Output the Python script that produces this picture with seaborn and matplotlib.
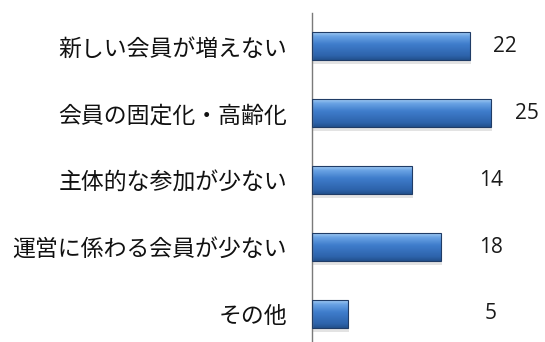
import numpy as np
import pandas as pd
import matplotlib
matplotlib.use("Agg")
import matplotlib.pyplot as plt
import seaborn as sns
from matplotlib.colors import LinearSegmentedColormap

categories = ["新しい会員が増えない", "会員の固定化・高齢化", "主体的な参加が少ない",
              "運営に係わる会員が少ない", "その他"]
values = [22, 25, 14, 18, 5]

sns.set_theme(style="white")
plt.rcParams['font.family'] = ['Noto Sans CJK JP', 'DejaVu Sans']

df = pd.DataFrame({"category": categories, "value": values})

fig = plt.figure(figsize=(5.45, 3.42), dpi=100)
ax = fig.add_axes([312 / 545, 0.0, 233 / 545, 1 - 13 / 342])

sns.barplot(data=df, x="value", y="category", orient="h", width=0.42,
            color="#3a76c6", ax=ax, edgecolor="#203c66", linewidth=0.8)

ax.set_xlim(0, 233 / 7.16)
ax.set_ylim(4.42, -0.5)

# gradient fill clipped to each bar
cmap = LinearSegmentedColormap.from_list(
    "barg", [(0.0, "#b3d6f8"), (0.18, "#6aa3e4"), (0.45, "#3f7dcc"),
             (0.85, "#2d63ab"), (1.0, "#22508c")])
grad = np.linspace(0, 1, 256).reshape(-1, 1)
for p in ax.patches:
    x0, y0 = p.get_x(), p.get_y()
    w, h = p.get_width(), p.get_height()
    sh = plt.Rectangle((x0 + 0.15, y0 + 0.06), w, h, facecolor="#c8c8c8",
                       edgecolor="none", alpha=0.5, zorder=1)
    ax.add_patch(sh)
    im = ax.imshow(grad, extent=(x0, x0 + w, y0 + h, y0), aspect="auto",
                   cmap=cmap, zorder=2, origin="upper")
    im.set_clip_path(p)
    p.set_zorder(3)
    p.set_facecolor("none")
ax.set_xlim(0, 233 / 7.16)
ax.set_ylim(4.42, -0.5)

for i, v in enumerate(values):
    ax.text(max(25, v + 5), i, str(v), ha="center", va="center",
            fontsize=15, color="#1a1a1a", family=["Open Sans", "DejaVu Sans"])

ax.set_xlabel("")
ax.set_ylabel("")
ax.set_xticks([])
ax.tick_params(axis="y", length=0, pad=18, labelsize=16.5, labelcolor="#111111")
for s in ["top", "right", "bottom"]:
    ax.spines[s].set_visible(False)
ax.spines["left"].set_color("#7a7a7a")
ax.spines["left"].set_linewidth(1.0)
ax.patch.set_alpha(0)

fig.savefig("out.png", dpi=100)
